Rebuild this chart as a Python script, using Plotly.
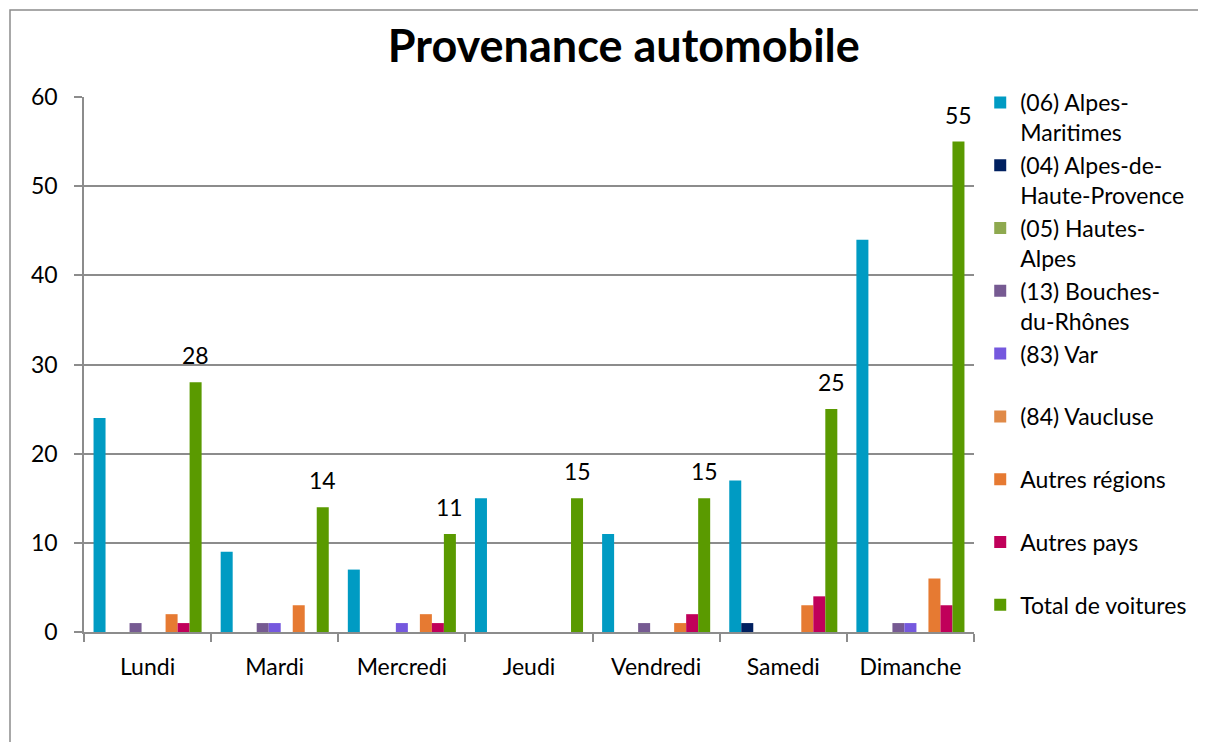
import plotly.graph_objects as go

days = ["Lundi", "Mardi", "Mercredi", "Jeudi", "Vendredi", "Samedi", "Dimanche"]

series_names = [
    "(06) Alpes-<br>Maritimes",
    "(04) Alpes-de-<br>Haute-Provence",
    "(05) Hautes-<br>Alpes",
    "(13) Bouches-<br>du-Rhônes",
    "(83) Var<br>\u00a0",
    "(84) Vaucluse<br>\u00a0",
    "Autres régions<br>\u00a0",
    "Autres pays<br>\u00a0",
    "Total de voitures",
]

alpes_maritimes = [24, 9, 7, 15, 11, 17, 44]
alpes_hte_provence = [0, 0, 0, 0, 0, 1, 0]
hautes_alpes = [0, 0, 0, 0, 0, 0, 0]
bouches_du_rhone = [1, 1, 0, 0, 1, 0, 1]
var = [0, 1, 1, 0, 0, 0, 1]
vaucluse = [0, 0, 0, 0, 0, 0, 0]
autres_regions = [2, 3, 2, 0, 1, 3, 6]
autres_pays = [1, 0, 1, 0, 2, 4, 3]
total_voitures = [28, 14, 11, 15, 15, 25, 55]

values = [alpes_maritimes, alpes_hte_provence, hautes_alpes, bouches_du_rhone,
          var, vaucluse, autres_regions, autres_pays, total_voitures]

colors = ["#009BC3", "#002060", "#8EA94F", "#765A92", "#7558DE",
          "#E08A48", "#E67A32", "#C0005A", "#5A9A00"]

FONT = "Lato, 'Noto Sans', sans-serif"
W, H = 1198, 734          # page body has an 8px margin
L, T, PW, PH = 76, 89, 890, 535
BARGAP = 0.15
n_series = len(values)
bar_w = PW / len(days) * (1 - BARGAP) / n_series

fig = go.Figure()
for i, (name, vals) in enumerate(zip(series_names, values)):
    fig.add_trace(go.Bar(
        x=days, y=vals, name=name,
        marker=dict(color=colors[i], line=dict(width=0)),
        legendgroup=f"g{i}",
    ))

# data labels for the total series
for d, v in zip(days, total_voitures):
    fig.add_annotation(x=d, y=v, text=str(v), showarrow=False,
                       xshift=(n_series - 1) / 2 * bar_w, yshift=27,
                       yanchor="middle", xanchor="center",
                       font=dict(size=23, family=FONT, color="black"))

fig.update_layout(
    width=W, height=H,
    margin=dict(l=L, r=W - L - PW, t=T, b=H - T - PH),
    paper_bgcolor="white", plot_bgcolor="white",
    barmode="group", bargap=BARGAP, bargroupgap=0,
    font=dict(family=FONT, size=23, color="black"),
    title=dict(text="<b>Provenance automobile</b>", x=0.514, xanchor="center",
               y=0.948, yanchor="middle", font=dict(size=45, family=FONT, color="black")),
    legend=dict(x=1.007, xanchor="left", y=1.030, yanchor="top",
                font=dict(size=23, family=FONT), valign="top",
                tracegroupgap=0, itemwidth=30, bgcolor="rgba(0,0,0,0)",
                maxheight=700),
    showlegend=True,
)

fig.update_xaxes(
    showline=True, linecolor="#8C8C8C", linewidth=1.5,
    ticks="outside", tickson="boundaries", ticklen=8, tickcolor="#8C8C8C", tickwidth=1.5,
    tickfont=dict(size=23, family=FONT), showgrid=False, ticklabelstandoff=14,
)
fig.update_yaxes(
    range=[0, 60], tickvals=[0, 10, 20, 30, 40, 50, 60],
    showline=True, linecolor="#8C8C8C", linewidth=1.5,
    ticks="outside", ticklen=8, tickcolor="#8C8C8C", tickwidth=1.5,
    showgrid=True, gridcolor="#8C8C8C", gridwidth=1.5,
    tickfont=dict(size=23, family=FONT), zeroline=False, ticklabelstandoff=12,
)

fig.add_shape(type="rect", xref="paper", yref="paper",
              x0=(2 - L) / PW, x1=1.4, y0=-0.4, y1=(T + PH - 2) / PH,
              line=dict(color="#8C8C8C", width=1.5), fillcolor="rgba(0,0,0,0)", layer="below")

fig.write_html("out.html")
